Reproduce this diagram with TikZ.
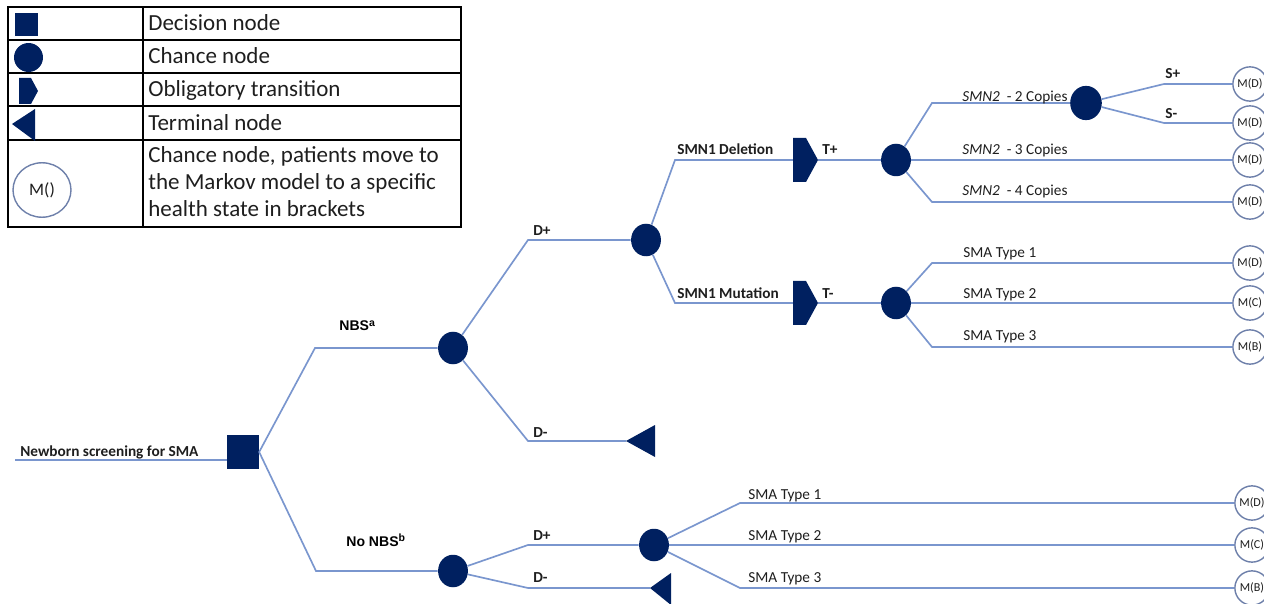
\documentclass[tikz,border=0pt]{standalone}
\usepackage{fontspec}
\setmainfont{Carlito}
\newfontfamily\arialf{Liberation Sans}
\usetikzlibrary{shapes.geometric}
\definecolor{navy}{RGB}{0,32,96}
\definecolor{brc}{RGB}{122,150,206}
\definecolor{mline}{RGB}{110,128,170}
\definecolor{txt}{RGB}{30,30,30}
\begin{document}
\begin{tikzpicture}[x=0.02cm,y=-0.02cm,
  branch/.style={draw=brc,line width=0.95pt},
  chance/.style={ellipse,fill=navy,minimum width=17pt,minimum height=18.5pt,inner sep=0pt},
  decision/.style={rectangle,fill=navy,minimum width=18pt,minimum height=19pt,inner sep=0pt},
  mnode/.style={circle,draw=mline,line width=0.8pt,fill=white,minimum size=19.5pt,inner sep=0pt,font=\fontsize{6.9}{7.5}\selectfont,text=txt},
  lab/.style={anchor=base west,inner sep=0pt,text=txt,font=\fontsize{8.7}{10}\selectfont\bfseries},
  rlab/.style={anchor=base west,inner sep=0pt,text=txt,font=\fontsize{8.7}{10}\selectfont},
  nlab/.style={anchor=base west,inner sep=0pt,text=black,font=\arialf\fontsize{8}{9}\selectfont\bfseries},
  leg/.style={anchor=base west,inner sep=0pt,text=txt,font=\fontsize{13.1}{15}\selectfont},
  cell/.style={draw=black,line width=1pt},
  navyfill/.style={fill=navy}
]
\useasboundingbox (0,0) rectangle (1264,604);
\clip (0,0) rectangle (1264,604);

% ---------------- legend ----------------
\draw[cell] (8,7) rectangle (461,227);
\draw[cell] (143,7) -- (143,227);
\foreach \yy in {40,73,106,140} \draw[cell] (8,\yy) -- (461,\yy);
\node[decision,minimum width=13pt,minimum height=13pt] (lgsq) at (26.5,24.5) {};
\node[circle,navyfill,minimum size=16.5pt,inner sep=0pt] (lgci) at (28.5,57.5) {};
\coordinate (lgob) at (19,91);
\fill[navyfill,shift={(lgob)}] (0,-13) -- (12,-13) -- (19,0) -- (12,13) -- (0,13) -- cycle;
\coordinate (lgte) at (12,124);
\fill[navyfill,shift={(lgte)}] (0,0) -- (23,-15) -- (23,17) -- cycle;
\node[ellipse,draw=mline,line width=0.8pt,minimum width=33pt,minimum height=31pt,inner sep=0pt,font=\fontsize{10}{12}\selectfont,text=txt] (lgm) at (42,190) {M()};
\node[leg] (l1) at (148,31) {Decision node};
\node[leg] (l2) at (148,64) {Chance node};
\node[leg] (l3) at (148,97) {Obligatory transition};
\node[leg] (l4) at (148,131) {Terminal node};
\node[leg] (l5) at (148,163) {Chance node, patients move to};
\node[leg] (l6) at (148,190) {the Markov model to a specific};
\node[leg] (l7) at (148,217) {health state in brackets};

% ---------------- tree nodes ----------------
\node[decision] (sq) at (243,452) {};
\coordinate (root) at (15,460);
\node[chance] (nbs) at (453,348) {};
\node[chance] (nonbs) at (453,571) {};
\node[chance] (c2) at (646,240) {};
\node[chance] (c3) at (896,160) {};
\node[chance] (c4) at (896,303) {};
\node[chance,minimum width=18pt,minimum height=19.5pt] (c5) at (1086,103) {};
\node[chance] (c6) at (654,545) {};
\coordinate (t1) at (626,441);
\coordinate (t2) at (650,588);
\coordinate (o1) at (793,160); \coordinate (o1r) at (818,160);
\coordinate (o2) at (793,303); \coordinate (o2r) at (818,303);

\node[mnode] (m0) at (1250,84) {M(D)};
\node[mnode] (m1) at (1250,123) {M(D)};
\node[mnode] (m2) at (1250,160) {M(D)};
\node[mnode] (m3) at (1250,202) {M(D)};
\node[mnode] (m4) at (1250,263) {M(D)};
\node[mnode] (m5) at (1250,303) {M(C)};
\node[mnode] (m6) at (1250,347) {M(B)};
\node[mnode] (m7) at (1252,503) {M(D)};
\node[mnode] (m8) at (1252,545) {M(C)};
\node[mnode] (m9) at (1252,588) {M(B)};

% elbows
\coordinate (e1) at (315,348); \coordinate (e2) at (316,571);
\coordinate (e3) at (528,240); \coordinate (e4) at (528,441);
\coordinate (e5) at (675,160); \coordinate (e6) at (675,303);
\coordinate (e7) at (932,103); \coordinate (e8) at (932,202);
\coordinate (e9) at (1164,84); \coordinate (e10) at (1164,123);
\coordinate (e11) at (932,263); \coordinate (e12) at (932,347);
\coordinate (e13) at (528,545); \coordinate (e14) at (528,588);
\coordinate (e15) at (740,503); \coordinate (e16) at (740,588);

% ---------------- connectors ----------------
\draw[branch] (root) -- (root -| sq.west);
\draw[branch] (sq.east) -- (e1) -- (nbs);
\draw[branch] (sq.east) -- (e2) -- (nonbs);
\draw[branch] (nbs) -- (e3) -- (c2);
\draw[branch] (nbs) -- (e4) -- (t1);
\draw[branch] (c2) -- (e5) -- (o1);
\draw[branch] (c2) -- (e6) -- (o2);
\draw[branch] (o1r) -- (c3);
\draw[branch] (o2r) -- (c4);
\draw[branch] (c3) -- (e7) -- (c5);
\draw[branch] (c3) -- (m2);
\draw[branch] (c3) -- (e8) -- (m3);
\draw[branch] (c5) -- (e9) -- (m0);
\draw[branch] (c5) -- (e10) -- (m1);
\draw[branch] (c4) -- (e11) -- (m4);
\draw[branch] (c4) -- (m5);
\draw[branch] (c4) -- (e12) -- (m6);
\draw[branch] (nonbs) -- (e13) -- (c6);
\draw[branch] (nonbs) -- (e14) -- (t2);
\draw[branch] (c6) -- (e15) -- (m7);
\draw[branch] (c6) -- (m8);
\draw[branch] (c6) -- (e16) -- (m9);

% special shapes
\fill[navyfill,shift={(t1)}] (0,0) -- (29,-16) -- (29,16) -- cycle;
\fill[navyfill,shift={(t2)}] (0,0) -- (21,-15) -- (21,17) -- cycle;
\fill[navyfill,shift={(o1)}] (0,-22) -- (13,-22) -- (25,0) -- (13,22) -- (0,22) -- cycle;
\fill[navyfill,shift={(o2)}] (0,-22) -- (13,-22) -- (25,0) -- (13,22) -- (0,22) -- cycle;

% ---------------- labels ----------------
\node[lab] (tr) at (20,456) {Newborn screening for SMA};
\node[nlab] (tnbs) at (339,331) {NBS\textsuperscript{a}};
\node[nlab] (tnonbs) at (346,546) {No NBS\textsuperscript{b}};
\node[lab] (td1) at (533,236) {D+};
\node[lab] (td2) at (533,437) {D-};
\node[lab] (td3) at (533,540) {D+};
\node[lab] (td4) at (533,582) {D-};
\node[lab] (tdel) at (677,155) {SMN1 Deletion};
\node[lab] (tmut) at (677,299) {SMN1 Mutation};
\node[lab] (ttp) at (822,155) {T+};
\node[lab] (ttm) at (822,299) {T-};
\node[rlab] (tc2) at (962,102) {\textit{SMN2}~ - 2 Copies};
\node[rlab] (tc3) at (962,155) {\textit{SMN2}~ - 3 Copies};
\node[rlab] (tc4) at (962,196) {\textit{SMN2}~ - 4 Copies};
\node[lab] (tsp) at (1165,79) {S+};
\node[lab] (tsm) at (1165,119) {S-};
\node[rlab] (ta1) at (963,258) {SMA Type 1};
\node[rlab] (ta2) at (963,299) {SMA Type 2};
\node[rlab] (ta3) at (963,341) {SMA Type 3};
\node[rlab] (tb1) at (748,499) {SMA Type 1};
\node[rlab] (tb2) at (748,540) {SMA Type 2};
\node[rlab] (tb3) at (748,582) {SMA Type 3};
\end{tikzpicture}
\end{document}
